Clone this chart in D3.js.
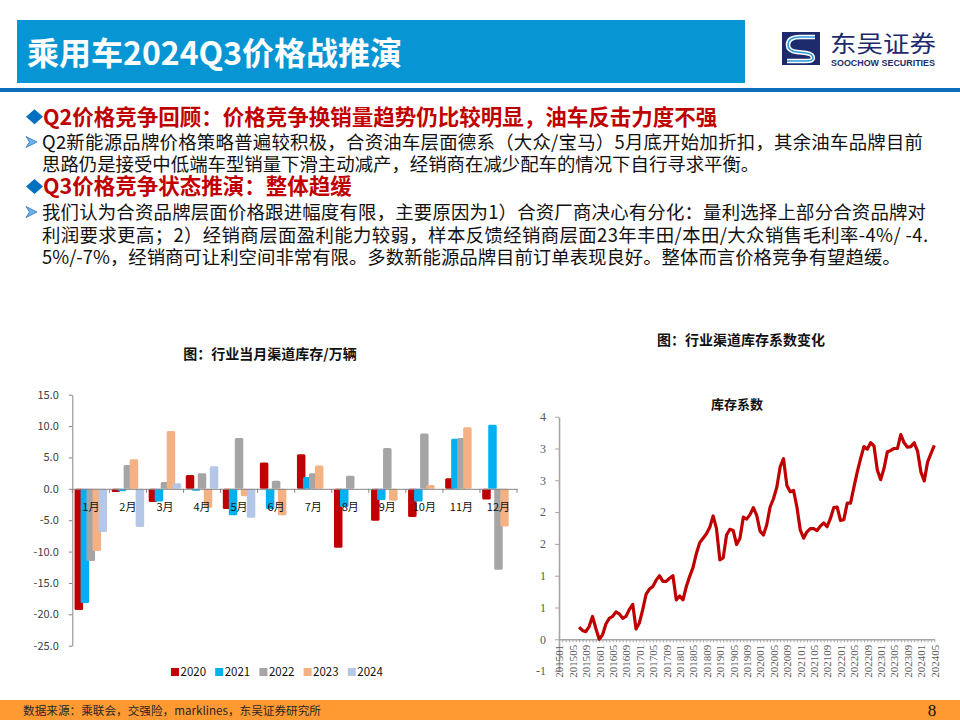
<!DOCTYPE html>
<html><head><meta charset="utf-8">
<script src="https://cdn.jsdelivr.net/npm/d3@7"></script>
<style>body{margin:0;background:#fff}svg{display:block}</style>
</head><body><svg id="c" width="960" height="720"></svg>
<script>
// ---------- DATA ----------
const monthCats = ["1月","2月","3月","4月","5月","6月","7月","8月","9月","10月","11月","12月"];
const yearNames = ["2020","2021","2022","2023","2024"];
const inv2020 = [-19.3,-0.5,-2.1,2.2,-3.2,4.2,5.5,-9.4,-5.1,-4.5,1.7,-1.7];
const inv2021 = [-18.2,-0.4,-2.0,-0.3,-4.2,-3.2,1.9,-2.9,-1.8,-2.0,8.0,10.2];
const inv2022 = [-11.5,3.8,1.1,2.5,8.1,1.3,2.5,2.1,6.5,8.8,8.1,-12.9];
const inv2023 = [-9.9,4.7,9.2,-3.0,-1.2,-4.2,3.7,0,-1.9,0.6,9.8,-6.0];
const inv2024 = [-6.9,-6.1,0.9,3.6,-4.6,null,null,null,null,null,null,null];
const invTicks = [-25,-20,-15,-10,-5,0,5,10,15];

const coefMonths = [
"201501","201502","201503","201504","201505","201506","201507","201508","201509","201510","201511","201512",
"201601","201602","201603","201604","201605","201606","201607","201608","201609","201610","201611","201612",
"201701","201702","201703","201704","201705","201706","201707","201708","201709","201710","201711","201712",
"201801","201802","201803","201804","201805","201806","201807","201808","201809","201810","201811","201812",
"201901","201902","201903","201904","201905","201906","201907","201908","201909","201910","201911","201912",
"202001","202002","202003","202004","202005","202006","202007","202008","202009","202010","202011","202012",
"202101","202102","202103","202104","202105","202106","202107","202108","202109","202110","202111","202112",
"202201","202202","202203","202204","202205","202206","202207","202208","202209","202210","202211","202212",
"202301","202302","202303","202304","202305","202306","202307","202308","202309","202310","202311","202312",
"202401","202402","202403","202404","202405"];
const coefValues = [
null,null,null,null,null,null,0.19,0.14,0.12,0.20,0.36,0.17,
0.00,0.07,0.24,0.33,0.36,0.43,0.40,0.33,0.36,0.47,0.55,0.16,
0.26,0.47,0.71,0.79,0.83,0.93,1.00,0.91,0.91,0.96,1.00,0.62,
0.68,0.62,0.83,0.99,1.13,1.35,1.52,1.59,1.66,1.76,1.94,1.74,
1.25,1.28,1.64,1.73,1.71,1.49,1.59,1.92,1.89,1.96,2.07,1.95,
1.70,1.64,1.80,2.08,2.21,2.39,2.71,2.84,2.42,2.32,2.34,2.08,
1.72,1.59,1.69,1.74,1.74,1.71,1.78,1.83,1.77,1.90,2.07,2.08,
1.87,1.88,2.14,2.14,2.39,2.63,2.84,3.03,2.99,3.09,3.04,2.66,
2.51,2.69,2.95,2.97,3.00,3.00,3.22,3.09,3.02,3.03,3.09,2.96,
2.63,2.49,2.79,2.92,3.05];
const coefTickLabels = ["201501","201505","201509","201601","201605","201609","201701","201705","201709",
"201801","201805","201809","201901","201905","201909","202001","202005","202009","202101","202105","202109",
"202201","202205","202209","202301","202305","202309","202401","202405"];
const coefYTicks = [-0.5,0,0.5,1,1.5,2,2.5,3,3.5];

// ---------- STYLE ----------
const CJK = "'Noto Sans CJK SC','Noto Sans',sans-serif";
const SERIF = "'Liberation Serif','DejaVu Serif',serif";
const yearColors = ["#C00000","#00B0F0","#A5A5A5","#F4B183","#B4C7E7"];

const svg = d3.select("#c");
svg.append("rect").attr("width",960).attr("height",720).attr("fill","#fff");

// ---------- HEADER ----------
svg.append("rect").attr("x",17).attr("y",20).attr("width",728).attr("height",63).attr("fill","#0895D4");
svg.append("text").attr("x",27).attr("y",64.5).attr("fill","#fff").attr("font-family",CJK)
  .attr("font-weight",700).attr("font-size",32).text("乘用车2024Q3价格战推演");
svg.append("rect").attr("x",0).attr("y",88).attr("width",960).attr("height",4).attr("fill","#0B6FBC");

// logo
const lg = svg.append("g");
lg.append("rect").attr("x",782).attr("y",32).attr("width",38).attr("height",33).attr("fill","#1D2B6C");
lg.append("path").attr("d","M815,37 L800,37 Q788,37 788,45 Q788,51 797,52 L806,53 Q813,54 813,58 Q813,61 806,61 L787,61")
  .attr("fill","none").attr("stroke","#fff").attr("stroke-width",4.5);
lg.append("path").attr("d","M815,37 L800,37 Q788,37 788,45 Q788,51 797,52 L806,53 Q813,54 813,58 Q813,61 806,61 L787,61")
  .attr("fill","none").attr("stroke","#2F9BD8").attr("stroke-width",1.6);
lg.append("text").attr("x",830).attr("y",52).attr("font-family",CJK).attr("font-size",23).attr("fill","#1D2B6C")
  .attr("textLength",106).attr("lengthAdjust","spacingAndGlyphs").text("东吴证券");
lg.append("text").attr("x",831).attr("y",65.5).attr("font-family","'Liberation Sans',Arial,sans-serif").attr("font-weight",700)
  .attr("font-size",8.5).attr("fill","#1D2B6C").attr("textLength",104).attr("lengthAdjust","spacingAndGlyphs").text("SOOCHOW SECURITIES");

// ---------- TEXT BLOCK ----------
function diamond(cy){
  svg.append("path").attr("d",`M26,${cy} L34.5,${cy-7.5} L43,${cy} L34.5,${cy+7.5} Z`).attr("fill","#0070C0");
}
function arrow(cy){
  svg.append("path").attr("d",`M26,${cy-5.5} L37,${cy} L26,${cy+5.5} L29.5,${cy} Z`)
    .attr("fill","#6FB2EA").attr("stroke","#2E75B6").attr("stroke-width",0.8).attr("stroke-linejoin","round");
}
function line(x,y,t,opt){
  const el = svg.append("text").attr("x",x).attr("y",y).attr("font-family",CJK)
    .attr("font-size",opt.size).attr("fill",opt.color).attr("font-weight",opt.bold?700:400).text(t);
  if(opt.len) el.attr("textLength",opt.len).attr("lengthAdjust","spacing");
  return el;
}
const red = {size:21.5,color:"#C00000",bold:true};
diamond(116.7);
line(43,124.9,"Q2价格竞争回顾：价格竞争换销量趋势仍比较明显，油车反击力度不强",red);
arrow(142);
line(42,148.7,"Q2新能源品牌价格策略普遍较积极，合资油车层面德系（大众/宝马）5月底开始加折扣，其余油车品牌目前",{size:18.4,color:"#111",len:881});
line(42,171,"思路仍是接受中低端车型销量下滑主动减产，经销商在减少配车的情况下自行寻求平衡。",{size:18.4,color:"#111"});
diamond(186.5);
line(43,194.4,"Q3价格竞争状态推演：整体趋缓",red);
arrow(212);
line(42,218.7,"我们认为合资品牌层面价格跟进幅度有限，主要原因为1）合资厂商决心有分化：量利选择上部分合资品牌对",{size:18.4,color:"#111",len:884});
line(42,242,"利润要求更高；2）经销商层面盈利能力较弱，样本反馈经销商层面23年丰田/本田/大众销售毛利率-4%/ -4.",{size:18.4,color:"#111",len:886});
line(42,264,"5%/-7%，经销商可让利空间非常有限。多数新能源品牌目前订单表现良好。整体而言价格竞争有望趋缓。",{size:18.4,color:"#111"});

// ---------- LEFT CHART ----------
svg.append("text").attr("x",270).attr("y",359.3).attr("text-anchor","middle").attr("font-family",CJK)
  .attr("font-weight",700).attr("font-size",14).attr("fill","#111").text("图：行业当月渠道库存/万辆");

const xL = d3.scaleBand().domain(monthCats).range([72.3,517]);
const yL = d3.scaleLinear().domain([-25,15]).range([645.7,394.7]);
const seriesL = [inv2020,inv2021,inv2022,inv2023,inv2024];
const barW = 8.5, barStep = 6;

const gBars = svg.append("g");
seriesL.forEach((vals,i)=>{
  gBars.selectAll(null).data(vals.map((v,j)=>({m:monthCats[j],v})).filter(d=>d.v!=null))
    .enter().append("rect")
    .attr("x",d=>xL(d.m)+xL.bandwidth()/2+(i-2)*barStep-barW/2)
    .attr("y",d=>yL(Math.max(0,d.v)))
    .attr("width",barW)
    .attr("height",d=>Math.abs(yL(d.v)-yL(0)))
    .attr("rx",1.5)
    .attr("fill",yearColors[i]);
});

const axY = svg.append("g").attr("transform","translate(72.3,0)")
  .call(d3.axisLeft(yL).tickValues(invTicks).tickFormat(d=>d.toFixed(1)).tickSize(3.5).tickSizeOuter(0).tickPadding(10));
axY.selectAll("path,line").attr("stroke","#868686");
axY.selectAll("text").attr("font-family",CJK).attr("font-size",11).attr("fill","#404040");

const axX = svg.append("g").attr("transform",`translate(0,${yL(0)})`)
  .call(d3.axisBottom(xL).tickSize(0).tickSizeOuter(0).tickPadding(14.4));
axX.selectAll("path").attr("stroke","#868686");
axX.selectAll("text").attr("font-family",CJK).attr("font-size",11).attr("fill","#111");
axX.selectAll(null).data(monthCats.concat(["end"])).enter().append("line")
  .attr("x1",d=>d==="end"?xL.range()[1]:xL(d)).attr("x2",d=>d==="end"?xL.range()[1]:xL(d))
  .attr("y1",0).attr("y2",4).attr("stroke","#868686");

const leg = svg.append("g");
yearNames.forEach((n,i)=>{
  const x0 = 171 + i*44.2;
  leg.append("rect").attr("x",x0).attr("y",668).attr("width",8).attr("height",8).attr("fill",yearColors[i]);
  leg.append("text").attr("x",x0+9.5).attr("y",676.3).attr("font-family",CJK).attr("font-size",11.5).attr("fill","#111").text(n);
});

// ---------- RIGHT CHART ----------
svg.append("text").attr("x",741).attr("y",345).attr("text-anchor","middle").attr("font-family",CJK)
  .attr("font-weight",700).attr("font-size",14).attr("fill","#111").text("图：行业渠道库存系数变化");
svg.append("text").attr("x",737).attr("y",409.4).attr("text-anchor","middle").attr("font-family",CJK)
  .attr("font-weight",700).attr("font-size",13).attr("fill","#111").text("库存系数");

const xR = d3.scalePoint().domain(coefMonths).range([559,934.3]);
const yR = d3.scaleLinear().domain([-0.5,3.5]).range([671.1,416.7]);
const excelRound = d=>{const s=d<0?-1:1;const r=s*Math.round(Math.abs(d));return String(r===0?0:r);};

const axYR = svg.append("g").attr("transform","translate(559,0)")
  .call(d3.axisLeft(yR).tickValues(coefYTicks).tickFormat(excelRound).tickSize(4).tickSizeOuter(0).tickPadding(9));
axYR.selectAll("path").attr("stroke","#A6A6A6").attr("stroke-width",1.6);
axYR.selectAll("line").attr("stroke","#A6A6A6");
axYR.selectAll("text").attr("font-family",SERIF).attr("font-size",12).attr("fill","#595959");

const axXR = svg.append("g").attr("transform",`translate(0,${yR(0)})`)
  .call(d3.axisBottom(xR).tickValues(coefMonths).tickFormat("").tickSize(3).tickSizeOuter(0));
axXR.selectAll("path").attr("stroke","#A6A6A6").attr("stroke-width",1.4);
axXR.selectAll("line").attr("stroke","#A6A6A6");

const axXRL = svg.append("g").attr("transform",`translate(0,${yR(0)})`)
  .call(d3.axisBottom(xR).tickValues(coefTickLabels).tickSize(0).tickSizeOuter(0));
axXRL.select("path").remove();
axXRL.selectAll("text").attr("transform","rotate(-90)").attr("x",-5.5).attr("y",0).attr("dy","0.35em")
  .attr("text-anchor","end").attr("font-family",SERIF).attr("font-size",11).attr("fill","#595959");

const coefData = coefMonths.map((m,i)=>({m,v:coefValues[i]}));
svg.append("path").datum(coefData)
  .attr("d",d3.line().defined(d=>d.v!=null).x(d=>xR(d.m)).y(d=>yR(d.v)))
  .attr("fill","none").attr("stroke","#C00000").attr("stroke-width",3.2).attr("stroke-linejoin","round");

// ---------- FOOTER ----------
svg.append("rect").attr("x",0).attr("y",700).attr("width",960).attr("height",20).attr("fill","#FF9A33");
svg.append("text").attr("x",23).attr("y",715).attr("font-family",CJK).attr("font-size",11.6).attr("fill","#262626")
  .attr("textLength",298).attr("lengthAdjust","spacingAndGlyphs")
  .text("数据来源：乘联会，交强险，marklines，东吴证券研究所");
svg.append("text").attr("x",932).attr("y",715.5).attr("text-anchor","middle").attr("font-family",SERIF)
  .attr("font-size",17).attr("fill","#111").text("8");
</script></body></html>
